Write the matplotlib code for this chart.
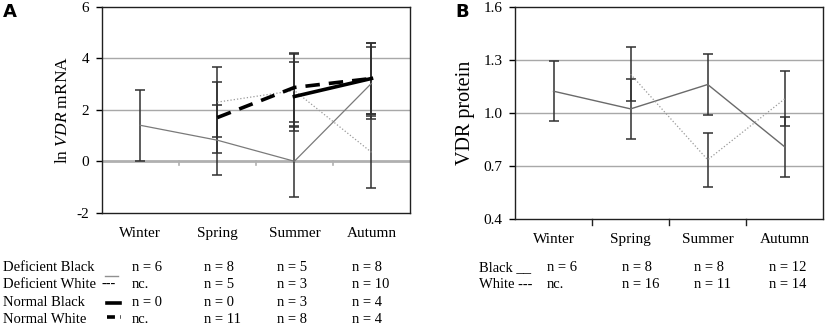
import numpy as np
import matplotlib
matplotlib.use('Agg')
import matplotlib.pyplot as plt
from matplotlib.lines import Line2D

plt.rcParams['font.family'] = ['Liberation Serif', 'DejaVu Serif']
plt.rcParams['axes.unicode_minus'] = False
plt.rcParams['mathtext.fontset'] = 'custom'
plt.rcParams['mathtext.rm'] = 'Liberation Serif'
plt.rcParams['mathtext.it'] = 'Liberation Serif:italic'

seasons = ['Winter', 'Spring', 'Summer', 'Autumn']
nan = np.nan

# panel A: ln VDR mRNA (mean, error)
def_black = [1.40, 0.82, 0.00, 3.03]
def_black_err = [1.37, 1.36, 1.37, 1.40]
def_white = [nan, 2.30, 2.75, 0.35]
def_white_err = [nan, 1.36, 1.42, 1.40]
norm_black = [nan, nan, 2.52, 3.22]
norm_black_err = [nan, nan, 1.36, 1.38]
norm_white = [nan, 1.70, 2.87, 3.22]
norm_white_err = [nan, 1.37, 1.35, 1.38]

# panel B: VDR protein
prot_black = [1.125, 1.025, 1.163, 0.81]
prot_black_err = [0.17, 0.17, 0.171, 0.169]
prot_white = [nan, 1.221, 0.737, 1.082]
prot_white_err = [nan, 0.153, 0.153, 0.156]

# n tables
rows_a = ['Deficient Black', 'Deficient White', 'Normal Black', 'Normal White']
n_a = [['n = 6', 'n = 8', 'n = 5', 'n = 8'],
       ['nc.', 'n = 5', 'n = 3', 'n = 10'],
       ['n = 0', 'n = 0', 'n = 3', 'n = 4'],
       ['nc.', 'n = 11', 'n = 8', 'n = 4']]
rows_b = ['Black __', 'White ---']
n_b = [['n = 6', 'n = 8', 'n = 8', 'n = 12'],
       ['nc.', 'n = 16', 'n = 11', 'n = 14']]

W, H = 827, 328
fig = plt.figure(figsize=(W / 100, H / 100), dpi=100)
axA = fig.add_axes([101.7 / W, 1 - 212.7 / H, 308.3 / W, 205.7 / H])
axB = fig.add_axes([515 / W, 1 - 219.3 / H, 308.3 / W, 212 / H])

x = np.arange(len(seasons))


def series(ax, y, err, color, lw, ls, dashes=None):
    y = np.array(y, dtype=float)
    err = np.array(err, dtype=float)
    m = ~np.isnan(y)
    ax.errorbar(x[m], y[m], yerr=err[m], fmt='none', ecolor='#303030',
                elinewidth=1.1, capsize=3.6, capthick=1.1, zorder=3)
    line, = ax.plot(x[m], y[m], color=color, lw=lw, ls=ls, zorder=4)
    if dashes:
        line.set_dashes(dashes)


for ax in (axA, axB):
    ax.set_xlim(-0.5, 3.5)
    ax.set_xticks(x)
    ax.set_xticklabels(seasons, fontsize=11)
    ax.tick_params(axis='x', length=0, pad=10)
    ax.tick_params(axis='y', length=4, width=1, labelsize=11, pad=5)
    for s in ax.spines.values():
        s.set_color('#202020')
        s.set_linewidth(1.0)

# panel A
axA.set_ylim(-2, 6)
axA.set_yticks([-2, 0, 2, 4, 6])
for g in (2, 4):
    axA.axhline(g, color='#a8a8a8', lw=1, zorder=1)
axA.axhline(0, color='#b0b0b0', lw=2, zorder=1)
for b in (0.5, 1.5, 2.5):
    axA.plot([b, b], [0, -0.15], color='#b0b0b0', lw=1.2, zorder=1)
series(axA, def_black, def_black_err, '#7a7a7a', 0.9, '-')
series(axA, def_white, def_white_err, '#9a9a9a', 0.9, ':')
series(axA, norm_black, norm_black_err, 'black', 2.6, '-')
series(axA, norm_white, norm_white_err, 'black', 2.6, '--', dashes=(4, 2.5))
axA.set_ylabel('ln $\\mathit{VDR}$ mRNA', fontsize=12.5, labelpad=4)

# panel B
axB.set_ylim(0.4, 1.6)
axB.set_yticks([0.4, 0.7, 1.0, 1.3, 1.6])
axB.set_yticklabels(['0.4', '0.7', '1.0', '1.3', '1.6'])
for g in (0.7, 1.0, 1.3):
    axB.axhline(g, color='#a8a8a8', lw=1, zorder=1)
for b in (0.5, 1.5, 2.5):
    axB.plot([b, b], [0.4, 0.37], color='#202020', lw=1, zorder=1, clip_on=False)
series(axB, prot_black, prot_black_err, '#6a6a6a', 1.0, '-')
series(axB, prot_white, prot_white_err, '#9a9a9a', 0.9, ':')
axB.set_ylabel('VDR protein', fontsize=14.5, labelpad=6)

# panel letters
fig.text(3 / W, 1 - 12 / H, 'A', fontsize=13, fontweight='bold',
         family='DejaVu Sans', va='center')
fig.text(455 / W, 1 - 12 / H, 'B', fontsize=13, fontweight='bold',
         family='DejaVu Sans', va='center')

# table A
row_y_a = [267.7, 284.3, 302.7, 319.3]
col_x_a = [132, 204, 277, 352]
for i, r in enumerate(rows_a):
    fig.text(3 / W, 1 - row_y_a[i] / H, r, fontsize=10.5, va='center')
    for j, t in enumerate(n_a[i]):
        fig.text(col_x_a[j] / W, 1 - row_y_a[i] / H, t, fontsize=10.5, va='center')
fig.add_artist(Line2D([105 / W, 118 / W], [1 - 276 / H, 1 - 276 / H],
                      color='#909090', lw=1))
fig.text(101 / W, 1 - row_y_a[1] / H, '---', fontsize=10.5, va='center')
fig.add_artist(Line2D([107 / W, 120 / W], [1 - 303 / H, 1 - 303 / H],
                      color='black', lw=2.6))
nw = Line2D([107 / W, 121 / W], [1 - 317 / H, 1 - 317 / H],
            color='black', lw=2.6, ls='--')
nw.set_dashes((2.2, 1.5))
fig.add_artist(nw)

# table B
row_y_b = [267.7, 284.3]
col_x_b = [546.7, 621.7, 694, 769]
for i, r in enumerate(rows_b):
    fig.text(479 / W, 1 - row_y_b[i] / H, r, fontsize=10.5, va='center')
    for j, t in enumerate(n_b[i]):
        fig.text(col_x_b[j] / W, 1 - row_y_b[i] / H, t, fontsize=10.5, va='center')

fig.savefig('out.png', dpi=100)
